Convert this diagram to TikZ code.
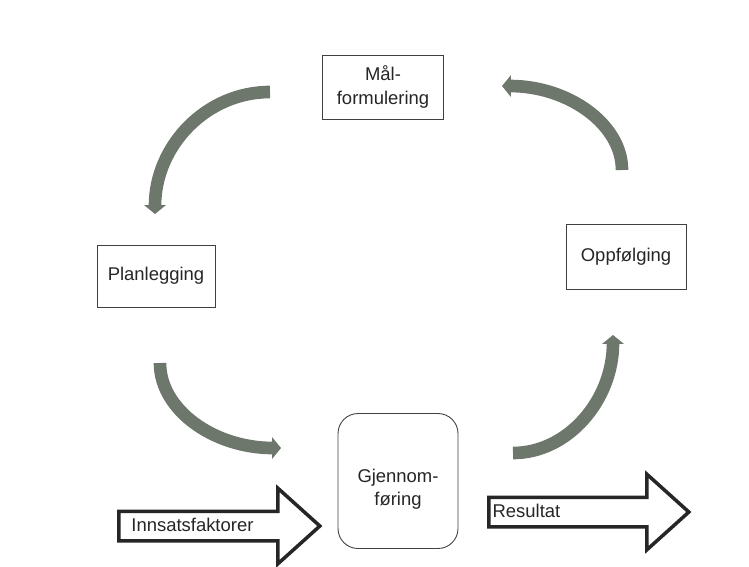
\documentclass[tikz,border=0pt]{standalone}
\usepackage{fontspec}
\setmainfont{Liberation Sans}
\usetikzlibrary{arrows.meta,shapes.arrows}

\begin{document}
\begin{tikzpicture}[x=0.02cm, y=-0.02cm,
    stepbox/.style={draw=black!75, line width=0.5pt, fill=white, text=black!85,
        align=center, font=\fontsize{10.5}{13.5}\selectfont},
    cyclearrow/.style={draw=arrow_gray, line width=7.2pt,
        -{Triangle[width=12pt, length=5pt]}},
    flowarrow/.style={single arrow, draw=black!85, line width=2pt, fill=white,
        text=black!85, font=\fontsize{10.5}{13}\selectfont,
        inner xsep=1.2pt, inner ysep=2.4pt, text height=8pt, text depth=2pt,
        single arrow head extend=0.46cm, single arrow tip angle=84, anchor=west}]
    \definecolor{arrow_gray}{HTML}{6E776C}
    \useasboundingbox (0,0) rectangle (749,566);
    %\draw[help lines, step=50] (0,0) grid (749,566);

    % the four steps
    \node[stepbox, minimum width=2.42cm, minimum height=1.28cm] (malform) at (383,87) {Mål-\\formulering};
    \node[stepbox, minimum width=2.36cm, minimum height=1.24cm] (planlegging) at (156,276) {Planlegging};
    \node[stepbox, minimum width=2.4cm, minimum height=1.3cm] (oppfolging) at (626,257) {Oppfølging};
    \node[stepbox, rounded corners=0.4cm, minimum width=2.4cm, minimum height=2.7cm] (gjennomforing) at (398,481) {\rule{0pt}{17pt}Gjennom-\\føring};

    % ends of the curved arrows
    \coordinate (malW) at (270,92);
    \coordinate (planN) at (155,214);
    \coordinate (planS) at (160,363);
    \coordinate (gjenW) at (281,448);
    \coordinate (gjenE) at (513,453);
    \coordinate (oppS) at (613,335);
    \coordinate (oppN) at (622,170);
    \coordinate (malE) at (502,86);

    \draw[cyclearrow] (malW) .. controls (206,92) and (155,146) .. (planN);
    \draw[cyclearrow] (planS) .. controls (160,410) and (214,448) .. (gjenW);
    \draw[cyclearrow] (gjenE) .. controls (568,453) and (613,400) .. (oppS);
    \draw[cyclearrow] (oppN) .. controls (622,124) and (568,86) .. (malE);

    % input and output
    \node[flowarrow, text width=3.54cm, align=left] (innsats) at (117,526) {\hspace*{5pt}Innsatsfaktorer};
    \node[flowarrow, text width=3.52cm, align=left] (resultat) at (487,512) {Resultat};

\end{tikzpicture}
\end{document}
